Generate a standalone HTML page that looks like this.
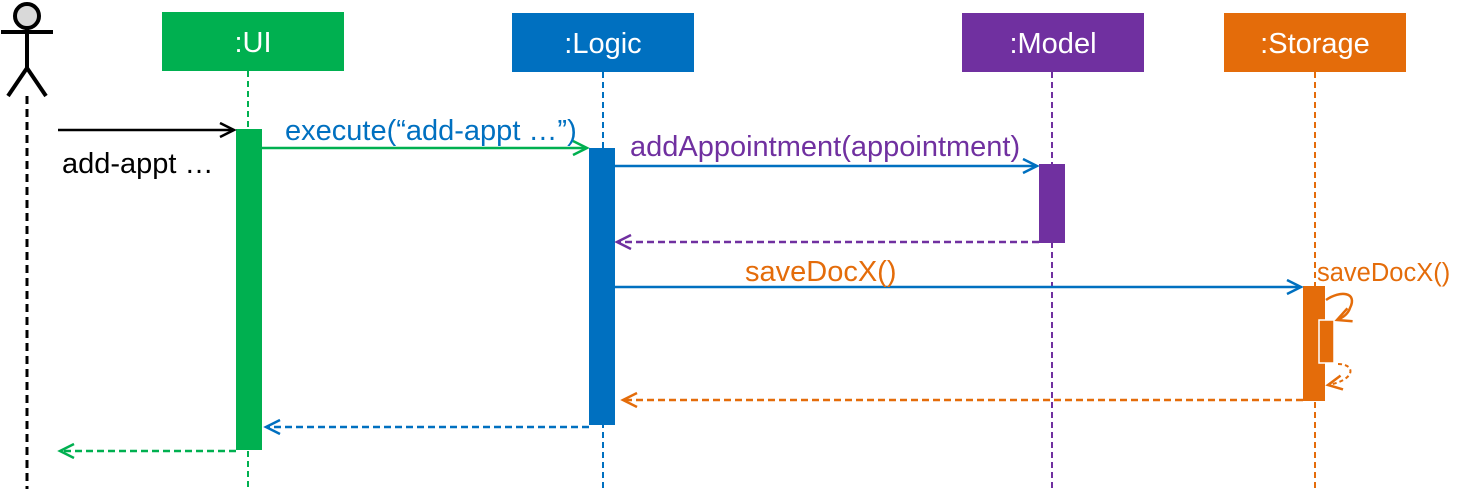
<!DOCTYPE html>
<html><head><meta charset="utf-8"><style>html,body{margin:0;padding:0;background:#fff}svg{display:block}</style></head><body>
<svg width="1464" height="489" viewBox="0 0 1464 489" xmlns="http://www.w3.org/2000/svg" font-family="Liberation Sans, sans-serif">
<defs>
<marker id="a" markerWidth="18" markerHeight="18" refX="15" refY="8" orient="auto" markerUnits="userSpaceOnUse"><path d="M1,1 L15,8 L1,15" fill="none" stroke="context-stroke" stroke-width="2.5"/></marker>
</defs>
<g stroke="#000" stroke-width="4" fill="none">
<circle cx="27" cy="16" r="12" fill="#d9d9d9"/>
<line x1="27" y1="28" x2="27" y2="68"/>
<line x1="1" y1="32" x2="53" y2="32"/>
<line x1="27" y1="68" x2="8" y2="96"/>
<line x1="27" y1="68" x2="46" y2="96"/>
<line x1="27" y1="96" x2="27" y2="489" stroke-width="3" stroke-dasharray="8,5"/>
</g>
<rect x="162" y="12" width="182" height="59" fill="#00B050"/>
<text x="253" y="52" fill="#fff" font-size="29" text-anchor="middle">:UI</text>
<rect x="512" y="13" width="182" height="59" fill="#0070C0"/>
<text x="603" y="53" fill="#fff" font-size="29" text-anchor="middle">:Logic</text>
<rect x="962" y="13" width="182" height="59" fill="#7030A0"/>
<text x="1053" y="53" fill="#fff" font-size="29" text-anchor="middle">:Model</text>
<rect x="1224" y="13" width="182" height="59" fill="#E46C0A"/>
<text x="1315" y="53" fill="#fff" font-size="29" text-anchor="middle">:Storage</text>
<g stroke-width="2" stroke-dasharray="6,4">
<line x1="248" y1="71" x2="248" y2="489" stroke="#00B050"/>
<line x1="603" y1="72" x2="603" y2="489" stroke="#0070C0"/>
<line x1="1052" y1="72" x2="1052" y2="489" stroke="#7030A0"/>
<line x1="1315" y1="72" x2="1315" y2="489" stroke="#E46C0A"/>
</g>
<rect x="236" y="129" width="26" height="321" fill="#00B050"/>
<rect x="589" y="148" width="26" height="277" fill="#0070C0"/>
<rect x="1039" y="164" width="26" height="79" fill="#7030A0"/>
<rect x="1303" y="286" width="22" height="115" fill="#E46C0A"/>
<rect x="1319" y="320" width="15" height="43" fill="#E46C0A" stroke="#fff" stroke-width="1.5"/>
<line x1="58" y1="130" x2="234" y2="130" stroke="#000" stroke-width="2.5" marker-end="url(#a)"/>
<text x="62" y="173" font-size="29">add-appt …</text>
<line x1="262" y1="148" x2="587" y2="148" stroke="#00B050" stroke-width="2.5" marker-end="url(#a)"/>
<text x="285" y="140" font-size="29" fill="#0070C0">execute(“add-appt …”)</text>
<line x1="615" y1="166" x2="1037" y2="166" stroke="#0070C0" stroke-width="2.5" marker-end="url(#a)"/>
<text x="630" y="156" font-size="29" fill="#7030A0">addAppointment(appointment)</text>
<line x1="1039" y1="242" x2="617" y2="242" stroke="#7030A0" stroke-width="2.5" stroke-dasharray="7,4" marker-end="url(#a)"/>
<line x1="615" y1="287" x2="1301" y2="287" stroke="#0070C0" stroke-width="2.5" marker-end="url(#a)"/>
<text x="745" y="281" font-size="29" fill="#E46C0A">saveDocX()</text>
<text x="1317" y="281" font-size="25.5" fill="#E46C0A">saveDocX()</text>
<path d="M1326,300 C1340,290 1358,292 1350,308 C1348,314 1342,318 1337,320" fill="none" stroke="#E46C0A" stroke-width="2.5" marker-end="url(#a)"/>
<path d="M1338,364 C1356,364 1356,380 1328,385" fill="none" stroke="#E46C0A" stroke-width="2" stroke-dasharray="4,3" marker-end="url(#a)"/>
<line x1="1303" y1="400" x2="623" y2="400" stroke="#E46C0A" stroke-width="2.5" stroke-dasharray="7,4" marker-end="url(#a)"/>
<line x1="589" y1="427" x2="266" y2="427" stroke="#0070C0" stroke-width="2.5" stroke-dasharray="7,4" marker-end="url(#a)"/>
<line x1="236" y1="451" x2="60" y2="451" stroke="#00B050" stroke-width="2.5" stroke-dasharray="7,4" marker-end="url(#a)"/>
</svg>
</body></html>
